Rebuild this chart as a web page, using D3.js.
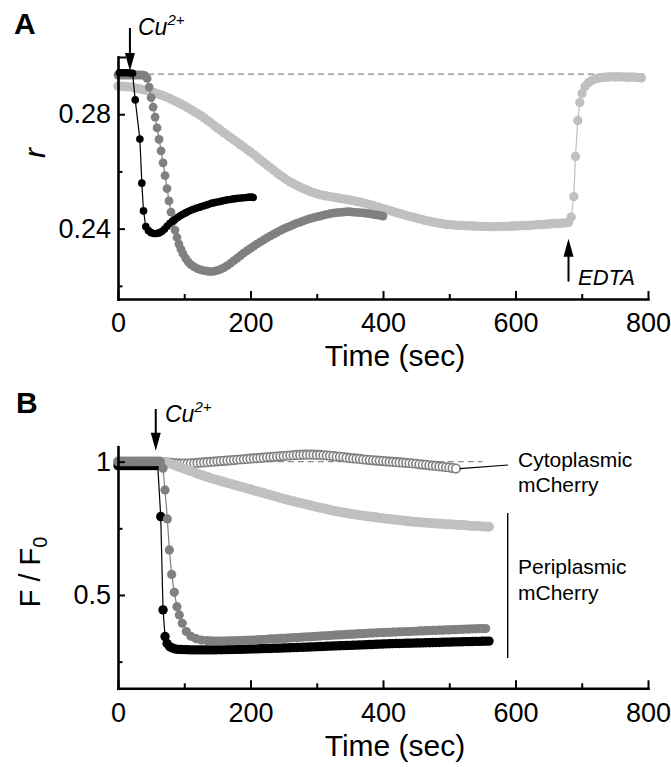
<!DOCTYPE html>
<html>
<head>
<meta charset="utf-8">
<script src="https://cdn.jsdelivr.net/npm/d3@7"></script>
<style>
  body { margin: 0; background: #fff; }
  text { font-family: "Liberation Sans", Arial, sans-serif; fill: #000; }
</style>
</head>
<body>
<script>
// ---- axis ticks ----
const xMajor = [0, 200, 400, 600, 800];
const xMinor = [100, 300, 500, 700];
const yMajorA = [0.24, 0.28];
const yMinorA = [0.22, 0.26];
const yTopTickA = [0.30];
const yMajorB = [0.5, 1];
const yMinorB = [0.25, 0.75];

// ---- panel A : ratio r vs time ----
// black (fast)
const blackA_t = [2,6,10,14,18,22,26,33,36,38.5,42,46,50,54,58,62,66,70,74,78,82,86,90,94,98,102,106,110,114,118,122,126,130,134,138,142,146,150,154,158,162,166,170,174,178,182,186,190,194,198,202,204];
const blackA_r = [0.2945,0.2945,0.2945,0.2945,0.2944,0.2943,0.2850,0.2713,0.2559,0.2462,0.2407,
  0.2393,0.2386,0.2383,0.2383,0.2385,0.2390,0.2398,0.2408,0.2418,0.2426,0.2432,0.2439,0.2445,0.2450,0.2455,0.2460,0.2464,0.2468,0.2471,0.2474,
  0.2477,0.2480,0.2483,0.2486,0.2489,0.2491,0.2493,0.2495,0.2497,0.2499,0.2501,0.2502,0.2504,0.2505,0.2506,0.2507,0.2508,0.2509,0.2510,0.2510,0.2509];

// dark gray (medium)
const darkA_t = [0,4,8,12,16,20,24,28,32,36,40,44,47,50,53,56,59,62,65,68,71,74,77,80,83,86,89,92,95,98,102,106,110]
  .concat(d3.range(115, 401, 5));
const darkA_r = [0.2937,0.2937,0.2937,0.2937,0.2937,0.2937,0.2937,0.2937,0.2937,0.2937,0.2936,
  0.2925,0.2895,0.2858,0.2825,0.2790,0.2752,0.2712,0.2672,0.2630,0.2585,0.2540,0.2497,0.2458,0.2425,0.2395,0.2369,0.2346,0.2328,0.2313,0.2297,0.2284,0.2274,
  0.2266,0.2260,0.2256,0.2253,0.2251,0.2250,0.2251,0.2254,0.2258,0.2264,
  0.2271,0.2279,0.2288,0.2297,0.2306,0.2315,0.2323,0.2331,0.2339,0.2347,
  0.2354,0.2361,0.2368,0.2375,0.2381,0.2387,0.2393,0.2399,0.2404,0.2409,
  0.2414,0.2419,0.2423,0.2427,0.2431,0.2435,0.2438,0.2441,0.2444,0.2447,
  0.2450,0.2452,0.2454,0.2456,0.2457,0.2458,0.2459,0.2459,0.2458,0.2457,
  0.2456,0.2455,0.2453,0.2452,0.2450,0.2448,0.2446,0.2444];

// light gray (slow, then EDTA)
const lightA_t = d3.range(0, 681, 5)
  .concat([684,688,690.5,694,697,700.5,705,710,715,720,725,730,735,740,745,750,755,760,765,770,775,780,785,790]);
const lightA_r = [0.2898,0.2898,0.2897,0.2896,0.2895,0.2892,
  0.2890,0.2887,0.2885,0.2882,0.2878, 0.2875,0.2871,0.2867,0.2863,0.2858,
  0.2853,0.2847,0.2842,0.2836,0.2830, 0.2823,0.2816,0.2809,0.2802,0.2795,
  0.2787,0.2778,0.2770,0.2761,0.2752, 0.2744,0.2735,0.2727,0.2718,0.2710,
  0.2702,0.2693,0.2685,0.2676,0.2668, 0.2659,0.2650,0.2640,0.2631,0.2622,
  0.2613,0.2604,0.2595,0.2586,0.2578, 0.2570,0.2563,0.2557,0.2551,0.2545,
  0.2540,0.2535,0.2530,0.2526,0.2522, 0.2519,0.2516,0.2514,0.2512,0.2510,
  0.2508,0.2506,0.2504,0.2502,0.2500, 0.2498,0.2495,0.2493,0.2490,0.2487,
  0.2484,0.2481,0.2477,0.2474,0.2470, 0.2467,0.2463,0.2460,0.2456,0.2453,
  0.2450,0.2446,0.2443,0.2440,0.2437, 0.2434,0.2431,0.2428,0.2426,0.2423,
  0.2421,0.2419,0.2417,0.2415,0.2414, 0.2413,0.2412,0.2411,0.2411,0.2410,
  0.2410,0.2409,0.2409,0.2408,0.2408, 0.2408,0.2407,0.2407,0.2407,0.2407,
  0.2408,0.2408,0.2408,0.2409,0.2409, 0.2410,0.2410,0.2411,0.2411,0.2412,
  0.2413,0.2414,0.2414,0.2415,0.2416, 0.2417,0.2418,0.2418,0.2419,0.2420,
  0.2422,
  0.2440,0.2512,0.2652,0.2778,0.2841,0.2873,0.2897,0.2910,0.2918,0.2923,0.2926,0.2928,
  0.2929,0.2930,0.2931,0.2930,0.2931,0.2930,0.2930,0.2929,0.2930,0.2929,0.2928,0.2927];
const baselineA = 0.294;

// ---- panel B : F / F0 vs time ----
const cytoB_t = d3.range(0, 511, 5);
const cytoB_f = [1,1,1,1,1,1,1,1,1,1,1,1,1,
  0.999,0.998,0.996,0.995,0.994,0.994,0.993,0.993,0.993,0.994,
  0.994,0.995,0.996,0.997,0.998,0.999,1.000,1.001,1.002,1.003,
  1.004,1.005,1.006,1.007,1.008,1.009,1.010,1.011,1.012,1.013,
  1.014,1.015,1.016,1.017,1.018,1.019,1.020,1.021,1.022,1.023,
  1.024,1.025,1.025,1.026,1.026,1.026,1.026,1.025,1.025,1.024,
  1.023,1.022,1.021,1.019,1.018,1.017,1.015,1.013,1.012,1.011,
  1.010,1.008,1.007,1.006,1.005,1.004,1.003,1.002,1.001,1.000,
  0.999,0.998,0.997,0.996,0.995,0.994,0.993,0.992,0.990,0.989,
  0.988,0.986,0.985,0.984,0.982,0.981,0.979,0.978,0.976,0.974];

const lightB_t = d3.range(0, 561, 5);
const lightB_f = [1,1,1,1,1,1,1,1,1,1,1,1,1,1,
  0.998,0.995,0.991,0.987,0.982,0.978,0.973,0.969,0.964,0.960,
  0.955,0.951,0.946,0.942,0.938,0.934,0.931,0.927,0.924,0.920,
  0.917,0.913,0.910,0.906,0.903,0.899,0.896,0.892,0.889,0.885,
  0.882,0.878,0.875,0.871,0.868,0.864,0.861,0.857,0.854,0.851,
  0.848,0.845,0.842,0.839,0.836,0.833,0.830,0.827,0.825,0.822,
  0.819,0.816,0.814,0.811,0.809,0.807,0.805,0.803,0.801,0.799,
  0.797,0.795,0.794,0.792,0.791,0.789,0.788,0.786,0.785,0.783,
  0.782,0.780,0.779,0.777,0.776,0.775,0.774,0.773,0.772,0.771,
  0.770,0.769,0.768,0.767,0.766,0.765,0.765,0.764,0.763,0.762,
  0.762,0.761,0.760,0.759,0.759,0.758,0.757,0.756,0.756];

const darkB_t = d3.range(0, 65, 4)
  .concat([68,71,74.5,77.5,81,85,89,92.5,97,103,110,118,126,134])
  .concat(d3.range(140, 556, 5));
const darkB_f = [1,1,1,1,1,1,1,1,1,1,1,1,1,1,1,1,1,
  0.975,0.894,0.785,0.669,0.577,0.510,0.456,0.425,0.394,0.363,0.345,0.336,0.331,0.329,
  0.328,0.327,0.327,0.327,0.327,0.328,0.328,0.328,0.329,0.329,
  0.330,0.330,0.331,0.331,0.332,0.333,0.333,0.334,0.335,0.335,
  0.336,0.337,0.337,0.338,0.339,0.340,0.340,0.341,0.342,0.343,
  0.343,0.344,0.345,0.346,0.347,0.347,0.348,0.349,0.350,0.350,
  0.351,0.352,0.353,0.353,0.354,0.355,0.355,0.356,0.357,0.357,
  0.358,0.359,0.359,0.360,0.360,0.361,0.361,0.362,0.362,0.363,
  0.363,0.364,0.364,0.365,0.365,0.366,0.366,0.367,0.367,0.368,
  0.368,0.369,0.369,0.370,0.370,0.371,0.371,0.372,0.372,0.373,
  0.373,0.374,0.374,0.374];

const blackB_t = d3.range(0, 61, 4)
  .concat([64.5,68,71,74,78,82,86,90,95])
  .concat(d3.range(100, 561, 5));
const blackB_f = [0.985,0.985,0.985,0.985,0.985,0.985,0.985,0.985,0.985,0.985,0.985,0.985,0.985,0.985,0.985,0.985,
  0.794,0.444,0.344,0.318,0.306,0.301,0.298,0.296,0.2955,
  0.295,0.2945,0.294,0.294,0.294,0.294,0.294,0.294,0.294,0.294,
  0.2945,0.2945,0.295,0.295,0.2955,0.2955,0.296,0.296,0.2965,0.297,
  0.2975,0.298,0.298,0.2985,0.299,0.299,0.2995,0.300,0.300,0.3005,
  0.301,0.3015,0.302,0.3025,0.303,0.3035,0.304,0.3045,0.305,0.3055,
  0.306,0.3065,0.307,0.3075,0.308,0.3085,0.309,0.3095,0.310,0.3105,
  0.311,0.3115,0.312,0.3125,0.313,0.3135,0.314,0.3145,0.315,0.3155,
  0.316,0.3165,0.317,0.3175,0.318,0.318,0.3185,0.319,0.319,0.3195,
  0.320,0.320,0.3205,0.321,0.321,0.3215,0.322,0.322,0.3225,0.323,
  0.323,0.3235,0.324,0.324,0.3245,0.325,0.325,0.3255,0.326,0.326,
  0.3265,0.327,0.327];
const baselineB = 1;

const cuTimeA = 18, edtaTimeA = 680, cuTimeB = 57;

// ---- layout ----
const width = 671, height = 767;
const FONT = '"Liberation Sans", Arial, sans-serif';
const svg = d3.select("body").append("svg")
  .attr("width", width).attr("height", height);

const xA = d3.scaleLinear().domain([0, 800]).range([118, 648]);
const yA = d3.scaleLinear().domain([0.2154, 0.30]).range([299, 57]);
const xB = d3.scaleLinear().domain([0, 800]).range([118, 648]);
const yB = d3.scaleLinear().domain([0.15, 1.056]).range([688.3, 446.7]);

function styleAxis(g) {
  g.attr("font-size", 27).attr("font-family", FONT);
  g.select(".domain").attr("stroke", "#000").attr("stroke-width", 2.6).attr("stroke-linecap", "square");
  g.selectAll(".tick line").attr("stroke", "#000").attr("stroke-width", 2);
  g.selectAll(".tick text").attr("fill", "#000");
}

function drawAxes(x, y, yMajor, yMinor, yExtra, yFmt, pad) {
  const yBot = y.range()[0];
  const xg = svg.append("g").attr("transform", `translate(0,${yBot})`)
    .call(d3.axisBottom(x).tickValues(xMajor).tickSize(-8).tickSizeOuter(0).tickPadding(pad).tickFormat(d3.format("d")));
  styleAxis(xg);
  const xm = svg.append("g").attr("transform", `translate(0,${yBot})`)
    .call(d3.axisBottom(x).tickValues(xMinor).tickSize(-5).tickFormat(""));
  xm.select(".domain").remove();
  xm.selectAll(".tick line").attr("stroke", "#000").attr("stroke-width", 2);

  const x0 = x.range()[0];
  const yg = svg.append("g").attr("transform", `translate(${x0},0)`)
    .call(d3.axisLeft(y).tickValues(yMajor).tickSize(-7).tickSizeOuter(0).tickPadding(7).tickFormat(yFmt));
  styleAxis(yg);
  const ym = svg.append("g").attr("transform", `translate(${x0},0)`)
    .call(d3.axisLeft(y).tickValues(yMinor).tickSize(-4.5).tickFormat(""));
  ym.select(".domain").remove();
  ym.selectAll(".tick line").attr("stroke", "#000").attr("stroke-width", 2);
  if (yExtra.length) {
    const ye = svg.append("g").attr("transform", `translate(${x0},0)`)
      .call(d3.axisLeft(y).tickValues(yExtra).tickSize(-8).tickFormat(""));
    ye.select(".domain").remove();
    ye.selectAll(".tick line").attr("stroke", "#000").attr("stroke-width", 2);
  }
}

function drawSeries(x, y, ts, vs, color, r, withLine, hollow) {
  const pts = ts.map((t, i) => [t, vs[i]]).filter(d => d[1] !== undefined);
  const g = svg.append("g");
  if (withLine) {
    g.append("path")
      .datum(pts)
      .attr("fill", "none")
      .attr("stroke", color)
      .attr("stroke-width", 1.2)
      .attr("d", d3.line().x(d => x(d[0])).y(d => y(d[1])));
  }
  g.selectAll("circle")
    .data(pts)
    .join("circle")
    .attr("cx", d => x(d[0]))
    .attr("cy", d => y(d[1]))
    .attr("r", r)
    .attr("fill", hollow ? "#fff" : color)
    .attr("stroke", hollow ? color : "none")
    .attr("stroke-width", hollow ? 1.6 : 0);
}

function arrow(xp, yFrom, yTip) {
  const dir = yTip > yFrom ? 1 : -1;
  svg.append("line")
    .attr("x1", xp).attr("x2", xp)
    .attr("y1", yFrom).attr("y2", yTip - dir * 10)
    .attr("stroke", "#000").attr("stroke-width", 2);
  svg.append("path")
    .attr("d", `M${xp - 5},${yTip - dir * 18}L${xp + 5},${yTip - dir * 18}L${xp},${yTip}Z`)
    .attr("fill", "#000");
}

function dashed(x, y, t0, t1, v) {
  svg.append("line")
    .attr("x1", x(t0)).attr("x2", x(t1))
    .attr("y1", y(v)).attr("y2", y(v))
    .attr("stroke", "#8c8c8c").attr("stroke-width", 1.1)
    .attr("stroke-dasharray", "6,4");
}

// ================= Panel A =================
dashed(xA, yA, 0, 795, baselineA);
drawSeries(xA, yA, lightA_t, lightA_r, "#c0c0c0", 4.7, true, false);
drawSeries(xA, yA, darkA_t, darkA_r, "#808080", 4.4, true, false);
drawSeries(xA, yA, blackA_t, blackA_r, "#000", 3.8, true, false);
drawAxes(xA, yA, yMajorA, yMinorA, yTopTickA, d3.format(".2f"), 14);

svg.append("text").attr("x", 14).attr("y", 34)
  .attr("font-size", 30).attr("font-weight", "bold").text("A");

arrow(xA(cuTimeA), 28, 71);
const cuA = svg.append("text").attr("x", 138).attr("y", 35)
  .attr("font-size", 23).attr("font-style", "italic");
cuA.append("tspan").text("Cu");
cuA.append("tspan").attr("dy", -10).attr("font-size", 15).text("2+");

arrow(xA(edtaTimeA), yA(0.2215), yA(0.2365));
svg.append("text").attr("x", 578).attr("y", 285)
  .attr("font-size", 22).attr("font-style", "italic").text("EDTA");

svg.append("text").attr("transform", "translate(45,153) rotate(-90)")
  .attr("text-anchor", "middle").attr("font-size", 30).attr("font-style", "italic").text("r");

svg.append("text").attr("x", 395).attr("y", 366)
  .attr("text-anchor", "middle").attr("font-size", 30).text("Time (sec)");

// ================= Panel B =================
dashed(xB, yB, 60, 550, baselineB);
drawSeries(xB, yB, cytoB_t, cytoB_f, "#808080", 4.3, false, true);
drawSeries(xB, yB, lightB_t, lightB_f, "#c0c0c0", 5, true, false);
drawSeries(xB, yB, blackB_t, blackB_f, "#000", 4.7, true, false);
drawSeries(xB, yB, darkB_t, darkB_f, "#808080", 4.6, true, false);
drawAxes(xB, yB, yMajorB, yMinorB, [], d => d === 1 ? "1" : d3.format(".1f")(d), 15);

svg.append("text").attr("x", 16).attr("y", 413)
  .attr("font-size", 30).attr("font-weight", "bold").text("B");

arrow(xB(cuTimeB), 409, yB(1.041));
const cuB = svg.append("text").attr("x", 165).attr("y", 422)
  .attr("font-size", 23).attr("font-style", "italic");
cuB.append("tspan").text("Cu");
cuB.append("tspan").attr("dy", -10).attr("font-size", 15).text("2+");

// labels for the two constructs
const lastCyto = cytoB_t.length - 1;
svg.append("line")
  .attr("x1", xB(cytoB_t[lastCyto]) + 4).attr("y1", yB(cytoB_f[lastCyto]))
  .attr("x2", 508).attr("y2", 465)
  .attr("stroke", "#000").attr("stroke-width", 1.2);
svg.append("text").attr("x", 518).attr("y", 467).attr("font-size", 21).text("Cytoplasmic");
svg.append("text").attr("x", 518).attr("y", 492).attr("font-size", 21).text("mCherry");

svg.append("line")
  .attr("x1", 507.7).attr("x2", 507.7).attr("y1", 513).attr("y2", 658)
  .attr("stroke", "#000").attr("stroke-width", 1.4);
svg.append("text").attr("x", 518).attr("y", 574).attr("font-size", 21).text("Periplasmic");
svg.append("text").attr("x", 518).attr("y", 600).attr("font-size", 21).text("mCherry");

const yl = svg.append("text").attr("transform", "translate(40,572) rotate(-90)")
  .attr("text-anchor", "middle").attr("font-size", 29);
yl.append("tspan").text("F / F");
yl.append("tspan").attr("dy", 7).attr("font-size", 20).text("0");

svg.append("text").attr("x", 395).attr("y", 756)
  .attr("text-anchor", "middle").attr("font-size", 30).text("Time (sec)");
</script>
</body>
</html>
